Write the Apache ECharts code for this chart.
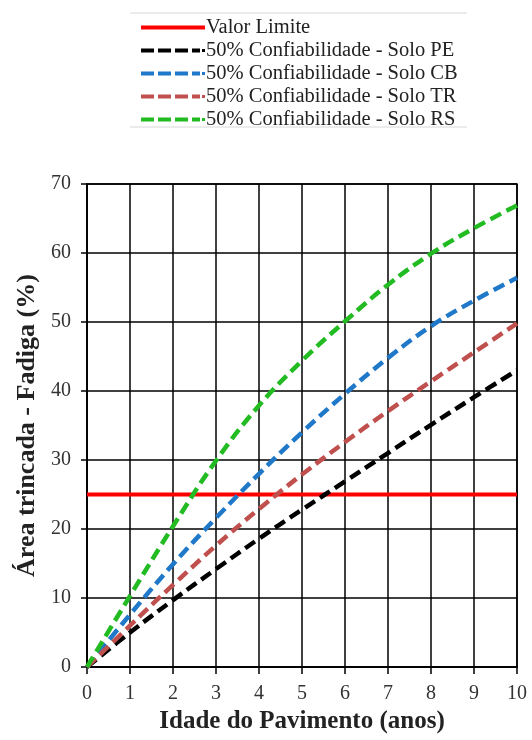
<!DOCTYPE html>
<html>
<head>
<meta charset="utf-8">
<script src="https://cdn.jsdelivr.net/npm/echarts@6/dist/echarts.min.js"></script>
<style>html,body{margin:0;padding:0;background:#fff;}#c{width:532px;height:740px;}</style>
</head>
<body>
<div id="c"></div>
<script>
var years = [0,1,2,3,4,5,6,7,8,9,10];
var limite = [25,25,25,25,25,25,25,25,25,25,25];
var soloPE = [0,5,9.7,14.2,18.6,22.8,26.9,31,35.1,39.1,43];
var soloCB = [0,7.6,14.9,21.6,28,34,39.6,44.8,49.4,53.1,56.4];
var soloTR = [0,6,11.9,17.6,22.9,27.9,32.6,37.1,41.4,45.6,49.8];
var soloRS = [0,10.3,20.4,29.9,37.9,44.4,50.1,55.4,59.9,63.6,66.9];
var xTicks = [0,1,2,3,4,5,6,7,8,9,10];
var yTicks = [0,10,20,30,40,50,60,70];
var names = ['Valor Limite','50% Confiabilidade - Solo PE','50% Confiabilidade - Solo CB','50% Confiabilidade - Solo TR','50% Confiabilidade - Solo RS'];
var colors = ['#ff0000','#000000','#1f78c8','#c0504d','#22bb22'];

function pairs(v){ return years.map(function(x,i){ return [x, v[i]]; }); }
var serif = 'Liberation Serif, Times New Roman, serif';
var solidIcon = 'path://M0,0h64v4h-64z';
var dashIcon = 'path://M0,0h13v4h-13z M17,0h13v4h-13z M34,0h13v4h-13z M51,0h8v4h-8z M61,0.5h3v3h-3z';
var chart = echarts.init(document.getElementById('c'), null, {renderer:'canvas'});
var allData = [limite, soloPE, soloCB, soloTR, soloRS];
var series = allData.map(function(v,i){
  return {
    name: names[i], type:'line', data: pairs(v), smooth: i===0 ? false : 0.4,
    showSymbol:false, symbol:'none', z: i===0 ? 3 : 4,
    lineStyle:{color:colors[i], width: i===0 ? 4 : 4.5, type: i===0 ? 'solid' : [12,6], cap:'butt'},
    itemStyle:{color:colors[i]}
  };
});
chart.setOption({
  animation:false,
  backgroundColor:'#fff',
  color: colors,
  legend:{
    orient:'vertical', left:136, top:12, itemGap:2, itemWidth:64, itemHeight:14,
    textStyle:{fontFamily:serif, fontSize:20.5, color:'#222', padding:[0,0,0,-4]},
    data: names.map(function(n,i){ return {name:n, icon: i===0 ? solidIcon : dashIcon}; })
  },
  graphic:[
    {type:'line', shape:{x1:130,y1:13,x2:467,y2:13}, style:{stroke:'#d8d8d8', lineWidth:1}},
    {type:'line', shape:{x1:130,y1:127,x2:467,y2:127}, style:{stroke:'#d8d8d8', lineWidth:1}}
  ],
  grid:{left:87, right:15, top:184, bottom:73, show:true, borderColor:'#000', borderWidth:1.5},
  xAxis:{
    type:'value', min:0, max:10, interval:1,
    name:'Idade do Pavimento (anos)', nameLocation:'middle', nameGap:42,
    nameTextStyle:{fontFamily:serif, fontSize:25, fontWeight:'bold', color:'#222'},
    axisLine:{show:true, onZero:false, lineStyle:{color:'#000', width:1.5}},
    axisTick:{show:true, length:7, lineStyle:{color:'#000', width:1.5}},
    axisLabel:{fontFamily:serif, fontSize:20, color:'#333', margin:17,
      formatter:function(v){ return xTicks.indexOf(v)>=0 ? String(v) : ''; }},
    splitLine:{show:true, lineStyle:{color:'#000', width:1.5}}
  },
  yAxis:{
    type:'value', min:0, max:70, interval:10,
    name:'Área trincada - Fadiga (%)', nameLocation:'middle', nameGap:47, nameRotate:90,
    nameTextStyle:{fontFamily:serif, fontSize:26, fontWeight:'bold', color:'#222'},
    axisLine:{show:true, lineStyle:{color:'#000', width:1.5}},
    axisTick:{show:true, length:6, lineStyle:{color:'#000', width:1.5}},
    axisLabel:{fontFamily:serif, fontSize:20, color:'#333', margin:16,
      formatter:function(v){ return yTicks.indexOf(v)>=0 ? String(v) : ''; }},
    splitLine:{show:true, lineStyle:{color:'#000', width:1.5}}
  },
  series: series
});
</script>
</body>
</html>
